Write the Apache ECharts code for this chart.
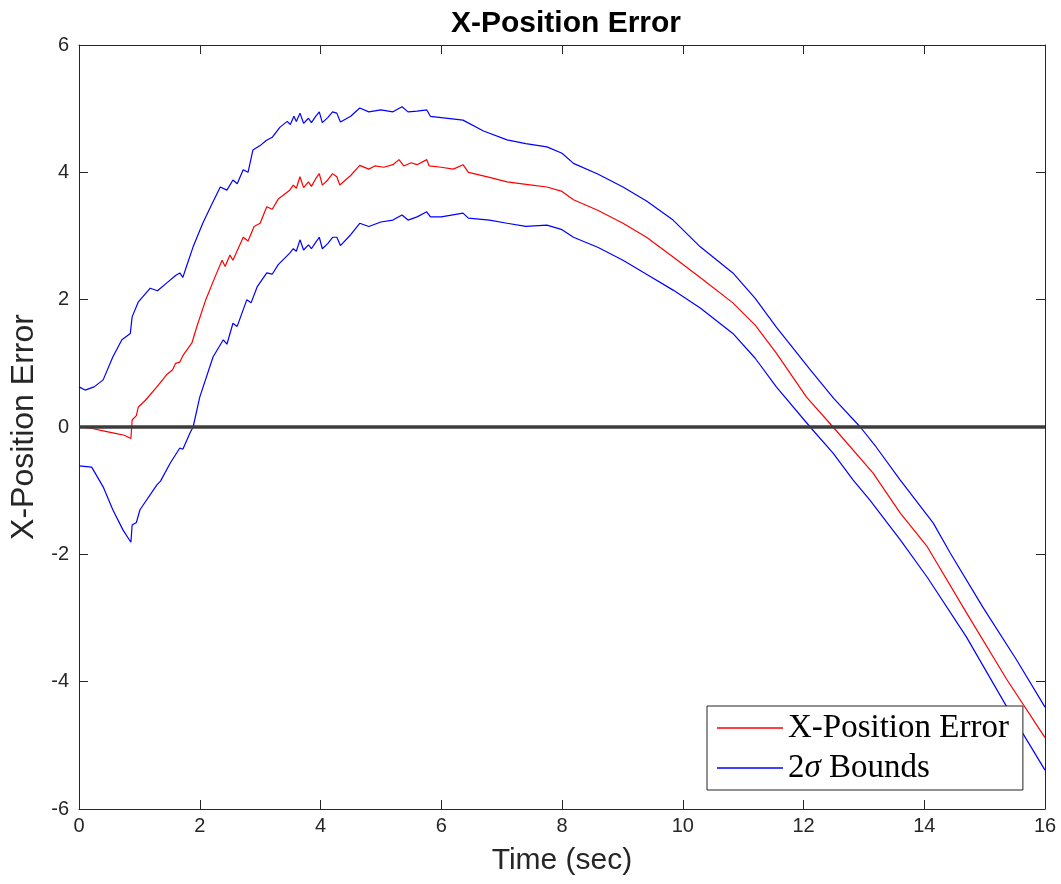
<!DOCTYPE html>
<html>
<head>
<meta charset="utf-8">
<script src="https://cdn.jsdelivr.net/npm/echarts@6/dist/echarts.min.js"></script>
<style>
  html, body { margin: 0; padding: 0; background: #fff; }
  #chart { width: 1061px; height: 884px; }
</style>
</head>
<body>
<div id="chart"></div>
<script>
// values, [time, error]
const errorPts = [
  [0, 0], [0.2, -0.02], [0.4, -0.06], [0.6, -0.1], [0.75, -0.13], [0.86, -0.18], [0.88, 0.11],
  [0.95, 0.18], [0.98, 0.31], [1.1, 0.42], [1.29, 0.63], [1.45, 0.82], [1.55, 0.9], [1.6, 1.0],
  [1.67, 1.02], [1.72, 1.12], [1.87, 1.32], [1.95, 1.57], [2.1, 2.0], [2.25, 2.35], [2.37, 2.62],
  [2.42, 2.52], [2.5, 2.7], [2.55, 2.62], [2.72, 2.98], [2.8, 2.92], [2.9, 3.15], [3.0, 3.2],
  [3.11, 3.46], [3.2, 3.42], [3.3, 3.58], [3.49, 3.72], [3.55, 3.8], [3.6, 3.75], [3.66, 3.93],
  [3.72, 3.76], [3.8, 3.85], [3.85, 3.78], [3.92, 3.9], [3.98, 3.98], [4.03, 3.8], [4.12, 3.88],
  [4.2, 3.98], [4.27, 3.93], [4.32, 3.8], [4.5, 3.95], [4.65, 4.11], [4.8, 4.05], [4.9, 4.1],
  [5.05, 4.08], [5.2, 4.12], [5.3, 4.2], [5.38, 4.1], [5.5, 4.15], [5.6, 4.12], [5.76, 4.2],
  [5.8, 4.1], [6.0, 4.08], [6.2, 4.05], [6.36, 4.12], [6.45, 4.0], [6.8, 3.92], [7.09, 3.85],
  [7.5, 3.8], [7.75, 3.77], [8.0, 3.7], [8.19, 3.57], [8.6, 3.4], [9.01, 3.2], [9.4, 2.98],
  [9.84, 2.67], [10.3, 2.34], [10.83, 1.95], [11.2, 1.6], [11.55, 1.16], [12.05, 0.47],
  [12.49, 0.0], [13.15, -0.72], [13.6, -1.35], [14.05, -1.88], [14.7, -2.92], [15.37, -3.97],
  [16, -4.88]
];
const upperPts = [
  [0, 0.63], [0.1, 0.58], [0.25, 0.63], [0.4, 0.74], [0.56, 1.1], [0.71, 1.37], [0.85, 1.47],
  [0.88, 1.73], [0.98, 1.96], [1.18, 2.18], [1.3, 2.14], [1.45, 2.26], [1.6, 2.38], [1.67, 2.42],
  [1.72, 2.35], [1.78, 2.52], [1.89, 2.83], [2.05, 3.2], [2.2, 3.5], [2.34, 3.77], [2.45, 3.72],
  [2.55, 3.88], [2.62, 3.82], [2.72, 4.04], [2.8, 4.0], [2.88, 4.35], [3.0, 4.42], [3.1, 4.5],
  [3.2, 4.55], [3.33, 4.71], [3.45, 4.8], [3.5, 4.75], [3.56, 4.88], [3.6, 4.8], [3.66, 4.93],
  [3.72, 4.77], [3.8, 4.85], [3.85, 4.78], [3.92, 4.88], [3.98, 4.95], [4.03, 4.78], [4.12, 4.86],
  [4.2, 4.95], [4.27, 4.93], [4.33, 4.79], [4.5, 4.88], [4.65, 5.01], [4.8, 4.95], [5.0, 4.98],
  [5.2, 4.95], [5.35, 5.03], [5.45, 4.95], [5.6, 4.96], [5.76, 4.98], [5.82, 4.88], [6.0, 4.86],
  [6.36, 4.82], [6.7, 4.65], [7.09, 4.51], [7.4, 4.45], [7.75, 4.4], [8.0, 4.3], [8.19, 4.14],
  [8.6, 3.97], [9.01, 3.77], [9.4, 3.55], [9.84, 3.25], [10.29, 2.83], [10.83, 2.42], [11.2, 2.02],
  [11.55, 1.57], [12.11, 0.9], [12.5, 0.45], [12.94, 0.0], [13.2, -0.31], [13.6, -0.83],
  [14.15, -1.51], [14.43, -1.98], [14.97, -2.83], [15.53, -3.66], [16, -4.4]
];
const lowerPts = [
  [0, -0.61], [0.21, -0.63], [0.4, -0.94], [0.56, -1.3], [0.73, -1.62], [0.86, -1.81], [0.88, -1.54],
  [0.95, -1.5], [1.01, -1.3], [1.29, -0.91], [1.35, -0.85], [1.51, -0.57], [1.67, -0.33], [1.72, -0.35],
  [1.84, -0.09], [1.89, 0], [2.0, 0.47], [2.22, 1.1], [2.39, 1.37], [2.45, 1.3], [2.55, 1.63],
  [2.62, 1.58], [2.78, 2.0], [2.85, 1.95], [2.95, 2.2], [3.11, 2.42], [3.2, 2.4], [3.3, 2.55],
  [3.49, 2.73], [3.55, 2.8], [3.6, 2.76], [3.66, 2.94], [3.72, 2.78], [3.8, 2.86], [3.85, 2.8],
  [3.92, 2.9], [3.98, 2.98], [4.03, 2.8], [4.12, 2.88], [4.2, 2.98], [4.27, 2.98], [4.33, 2.85],
  [4.5, 3.02], [4.65, 3.2], [4.8, 3.15], [5.0, 3.22], [5.2, 3.25], [5.35, 3.33], [5.45, 3.25],
  [5.6, 3.3], [5.76, 3.38], [5.82, 3.3], [6.0, 3.3], [6.36, 3.36], [6.45, 3.28], [6.8, 3.25],
  [7.09, 3.2], [7.4, 3.15], [7.75, 3.17], [8.0, 3.1], [8.19, 2.98], [8.6, 2.82], [9.01, 2.62],
  [9.4, 2.4], [9.84, 2.15], [10.29, 1.87], [10.83, 1.47], [11.2, 1.08], [11.55, 0.63], [12.11, 0.0],
  [12.49, -0.41], [12.82, -0.83], [13.1, -1.15], [13.6, -1.77], [14.05, -2.36], [14.7, -3.3],
  [15.37, -4.4], [16, -5.39]
];
const zeroPts = [[0, 0], [16, 0]];

const axisColor = '#262626';
const sans = '"Liberation Sans", Arial, Helvetica, sans-serif';
const serif = '"Liberation Serif", "Times New Roman", serif';

const chart = echarts.init(document.getElementById('chart'));

// box axes: labelled bottom/left, bare ticks on top/right
function frameAxis(pos, labelled, extra) {
  const vertical = pos === 'left' || pos === 'right';
  return Object.assign({
    type: 'value',
    position: pos,
    min: vertical ? -6 : 0,
    max: vertical ? 6 : 16,
    interval: 2,
    axisLine: { show: true, onZero: false, lineStyle: { color: axisColor, width: 1 } },
    axisTick: { show: true, inside: true, length: 9, lineStyle: { color: axisColor } },
    axisLabel: { show: labelled, color: axisColor, fontSize: 20, fontFamily: sans },
    splitLine: { show: false }
  }, extra || {});
}

const option = {
  animation: false,
  backgroundColor: '#fff',
  title: {
    text: 'X-Position Error',
    left: 561,
    textAlign: 'center',
    top: 4,
    textStyle: { fontSize: 30, fontWeight: 'bold', color: '#000', fontFamily: sans }
  },
  grid: { left: 79, right: 16, top: 45, bottom: 75 },
  xAxis: [
    frameAxis('bottom', true, {
      name: 'Time (sec)', nameLocation: 'middle', nameGap: 37,
      nameTextStyle: { fontSize: 30, color: axisColor, fontFamily: sans },
      axisLabel: { show: true, color: axisColor, fontSize: 20, fontFamily: sans, margin: 7 }
    }),
    frameAxis('top', false)
  ],
  yAxis: [
    frameAxis('left', true, {
      name: 'X-Position Error', nameLocation: 'middle', nameGap: 38,
      nameTextStyle: { fontSize: 32, color: axisColor, fontFamily: sans },
      axisLabel: { show: true, color: axisColor, fontSize: 20, fontFamily: sans, margin: 10 }
    }),
    frameAxis('right', false)
  ],
  legend: {
    data: [
      { name: 'X-Position Error', icon: 'rect' },
      { name: '2σ Bounds', icon: 'rect' }
    ],
    orient: 'vertical',
    left: 707,
    top: 706,
    padding: [5, 14, 5, 10],
    itemGap: 6,
    itemWidth: 66,
    itemHeight: 1.3,
    backgroundColor: '#fff',
    borderColor: '#222',
    borderWidth: 1,
    borderRadius: 0,
    formatter: function (name) {
      return name === '2σ Bounds' ? '2{s|σ} Bounds' : name;
    },
    textStyle: {
      fontSize: 33, color: '#000', fontFamily: serif, lineHeight: 34,
      rich: { s: { fontSize: 33, fontStyle: 'italic', fontFamily: serif, color: '#000', lineHeight: 34 } }
    }
  },
  series: [
    {
      name: 'X-Position Error', type: 'line', data: errorPts, symbol: 'none',
      lineStyle: { color: '#ff0000', width: 1.2 }, itemStyle: { color: '#ff0000' }, z: 3
    },
    {
      name: '2σ Bounds', type: 'line', data: upperPts, symbol: 'none',
      lineStyle: { color: '#0000ff', width: 1.2 }, itemStyle: { color: '#0000ff' }, z: 2
    },
    {
      name: '2σ Bounds', type: 'line', data: lowerPts, symbol: 'none',
      lineStyle: { color: '#0000ff', width: 1.2 }, itemStyle: { color: '#0000ff' }, z: 2
    },
    {
      name: 'zero', type: 'line', data: zeroPts, symbol: 'none', silent: true,
      lineStyle: { color: '#3c3c3c', width: 3.5 }, z: 4
    }
  ]
};

chart.setOption(option);
</script>
</body>
</html>
